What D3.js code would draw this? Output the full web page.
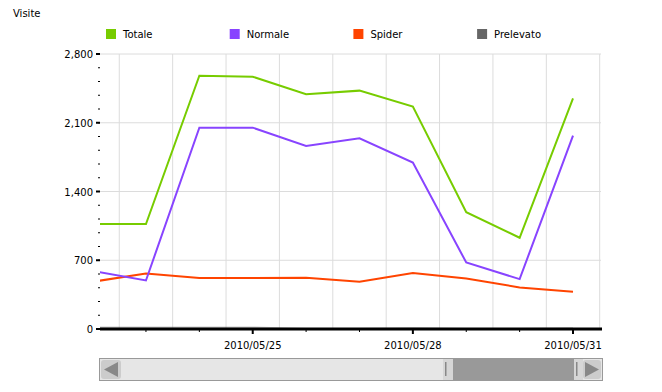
<!DOCTYPE html>
<html>
<head>
<meta charset="utf-8">
<script src="https://cdn.jsdelivr.net/npm/d3@7"></script>
<style>
  body { margin: 0; background: #fff; }
  text { font-family: "DejaVu Sans", Verdana, sans-serif; font-size: 10px; fill: #000; }
</style>
</head>
<body>
<div id="graph"></div>
<script>
var days = ["2010-05-22", "2010-05-23", "2010-05-24", "2010-05-25", "2010-05-26",
            "2010-05-27", "2010-05-28", "2010-05-29", "2010-05-30", "2010-05-31"]
var totale    = [1068, 1068, 2579, 2569, 2390, 2427, 2264, 1190, 929, 2349]
var normale   = [591, 494, 2050, 2050, 1864, 1942, 1694, 677, 508, 1969]
var spider    = [481, 565, 519, 519, 522, 481, 570, 515, 423, 379]
var prelevato = [15, 15, 15, 15, 0, 0, 8, 0, 0, 8]
var seriesNames = ["Totale", "Normale", "Spider", "Prelevato"]
var seriesColors = ["#77cc00", "#8844ff", "#ff4400", "#666666"]
var yTicks = [0, 700, 1400, 2100, 2800]
var labelDays = ["2010-05-25", "2010-05-28", "2010-05-31"]

var width = 662, height = 392
var margin = {top: 54, left: 100, bottom: 63, right: 61}
var chartWidth = width - margin.left - margin.right
var chartHeight = height - margin.top - margin.bottom

var parse = d3.utcParse("%Y-%m-%d")
var dates = days.map(parse)

var svg = d3.select("#graph").append("svg")
    .attr("width", width).attr("height", height)

var x = d3.scaleUtc()
    .domain([new Date(Date.UTC(2010, 4, 22, 3, 20)), new Date(Date.UTC(2010, 4, 31, 12, 35))])
    .range([0, chartWidth])
var y = d3.scaleLinear().domain([0, 2800]).range([chartHeight, 0])

svg.append("text").attr("x", 13).attr("y", 17).text("Visite")

// legend
var legend = svg.append("g").selectAll("g")
    .data(seriesNames)
    .enter().append("g")
    .attr("transform", function(d, i) { return "translate(" + (106 + i * 123.7) + ",29)" })
legend.append("rect").attr("width", 10).attr("height", 10)
    .attr("fill", function(d, i) { return seriesColors[i] })
legend.append("text").attr("x", 17).attr("y", 9).text(function(d) { return d })

var chart = svg.append("g").attr("transform", "translate(" + margin.left + "," + margin.top + ")")

svg.append("defs").append("clipPath").attr("id", "clip")
    .append("rect").attr("width", chartWidth).attr("height", chartHeight + 2).attr("y", -2)

// grid
var noons = d3.utcHour.every(12).range(x.domain()[0], x.domain()[1])
    .filter(function(d) { return d.getUTCHours() == 12 })
chart.append("g").selectAll("line")
    .data(noons)
    .enter().append("line")
    .attr("x1", x).attr("x2", x).attr("y1", 0).attr("y2", chartHeight)
    .attr("stroke", "#dcdcdc")
chart.append("g").selectAll("line")
    .data(yTicks.slice(1))
    .enter().append("line")
    .attr("x1", 0).attr("x2", chartWidth)
    .attr("y1", y).attr("y2", y)
    .attr("stroke", "#dcdcdc")

// y axis ticks
var yAxis = chart.append("g")
yAxis.selectAll(".minor")
    .data(d3.range(0, 2801, 140))
    .enter().append("line")
    .attr("x1", -2).attr("x2", 0).attr("y1", y).attr("y2", y)
    .attr("stroke", "#000")
yAxis.selectAll(".major")
    .data(yTicks)
    .enter().append("line")
    .attr("x1", -4).attr("x2", 0).attr("y1", y).attr("y2", y)
    .attr("stroke", "#000").attr("stroke-width", 2)
yAxis.selectAll("text")
    .data(yTicks)
    .enter().append("text")
    .attr("x", -7).attr("y", y).attr("dy", "0.4em")
    .attr("text-anchor", "end")
    .text(d3.format(","))

// lines
var allSeries = [totale, normale, spider, prelevato]
var line = d3.line()
    .x(function(d, i) { return x(dates[i]) })
    .y(function(d) { return y(d) })
var lines = chart.append("g").attr("clip-path", "url(#clip)")
lines.selectAll("path")
    .data(allSeries.slice().reverse())
    .enter().append("path")
    .attr("d", line)
    .attr("fill", "none")
    .attr("stroke", function(d, i) { return seriesColors[3 - i] })
    .attr("stroke-opacity", function(d, i) { return i == 0 ? 0.35 : 1 })
    .attr("stroke-width", 2)

// x axis
var xAxis = chart.append("g").attr("transform", "translate(0," + chartHeight + ")")
xAxis.append("line").attr("x1", 0).attr("x2", chartWidth + 1)
    .attr("stroke", "#000").attr("stroke-width", 3)
var tickDays = dates.filter(function(d) { return d >= x.domain()[0] })
xAxis.selectAll(".tick")
    .data(tickDays)
    .enter().append("line")
    .attr("x1", x).attr("x2", x)
    .attr("y1", 0)
    .attr("y2", function(d) { return labelDays.indexOf(d3.utcFormat("%Y-%m-%d")(d)) >= 0 ? 5 : 3 })
    .attr("stroke", "#000").attr("stroke-width", function(d) {
        return labelDays.indexOf(d3.utcFormat("%Y-%m-%d")(d)) >= 0 ? 2 : 1 })
xAxis.selectAll("text")
    .data(labelDays.map(parse))
    .enter().append("text")
    .attr("x", x).attr("y", 20)
    .attr("text-anchor", "middle")
    .text(d3.utcFormat("%Y/%m/%d"))

// scrollbar
var sb = svg.append("g").attr("transform", "translate(99,358)")
sb.append("rect").attr("x", 0.5).attr("y", 0.5).attr("width", 503).attr("height", 22)
    .attr("fill", "#e6e6e6").attr("stroke", "#999")
sb.append("rect").attr("x", 2).attr("y", 2).attr("width", 20).attr("height", 19).attr("rx", 3)
    .attr("fill", "#cccccc")
sb.append("path").attr("d", "M5,11.5L19,4L19,19Z").attr("fill", "#888")
sb.append("rect").attr("x", 344).attr("y", 1).attr("width", 10).attr("height", 21).attr("fill", "#d6d6d6")
sb.append("rect").attr("x", 346).attr("y", 4).attr("width", 1.5).attr("height", 14).attr("fill", "#888")
sb.append("rect").attr("x", 354).attr("y", 1).attr("width", 121).attr("height", 21).attr("fill", "#999")
sb.append("rect").attr("x", 475).attr("y", 1).attr("width", 9).attr("height", 21).attr("fill", "#d6d6d6")
sb.append("rect").attr("x", 477).attr("y", 4).attr("width", 1.5).attr("height", 14).attr("fill", "#888")
sb.append("rect").attr("x", 484).attr("y", 2).attr("width", 18).attr("height", 19).attr("rx", 3)
    .attr("fill", "#cccccc")
sb.append("path").attr("d", "M486,4L500,11.5L486,19Z").attr("fill", "#888")
</script>
</body>
</html>
